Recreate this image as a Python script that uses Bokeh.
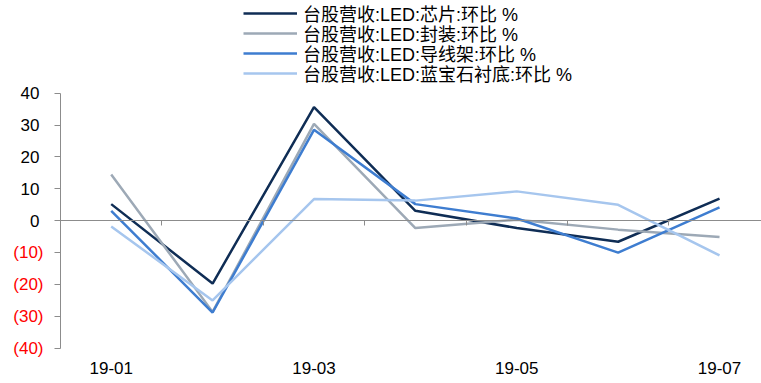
from bokeh.plotting import figure
from bokeh.models import FixedTicker, Legend, LegendItem, Label, LinearAxis
from bokeh.embed import file_html
from bokeh.resources import INLINE

# Monthly month-over-month revenue change (%) of Taiwan-listed LED companies
months = ["19-01", "19-02", "19-03", "19-04", "19-05", "19-06", "19-07"]
chips = [5.2, -19.7, 35.6, 3.1, -2.3, -6.6, 6.9]
packaging = [14.5, -28.6, 30.4, -2.3, 0.3, -2.8, -5.1]
leadframe = [3.1, -28.8, 28.5, 5.2, 0.7, -10.0, 4.2]
sapphire = [-1.8, -25.0, 6.8, 6.3, 9.2, 5.0, -10.9]

series_names = [
    "台股营收:LED:芯片:环比 %",
    "台股营收:LED:封装:环比 %",
    "台股营收:LED:导线架:环比 %",
    "台股营收:LED:蓝宝石衬底:环比 %",
]
series_colors = ["#0F2D55", "#9DA9B6", "#3E7DD0", "#A6C6EE"]

y_ticks = [-40, -30, -20, -10, 0, 10, 20, 30, 40]
x_label_idx = [0, 2, 4, 6]

FONT = "'Liberation Sans', 'Noto Sans CJK SC'"
AXIS_GREY = "#8C8C8C"

xs = list(range(len(months)))
x_lo, x_hi = -0.5, len(months) - 1 + 0.414
y_lo, y_hi = -40, 40

# The plotting area spans the whole canvas; axes are pinned inside it so
# that the legend and the red tick labels above/left of the data stay visible.
p = figure(width=761, height=383, output_backend="svg", toolbar_location=None,
           x_range=(-1.092, x_hi), y_range=(-51.07, 69.08),
           min_border=0, x_axis_type=None, y_axis_type=None)
p.outline_line_color = None
p.background_fill_color = "white"
p.border_fill_color = "white"
p.grid.visible = False

renderers = []
for vals, color in zip([chips, packaging, leadframe, sapphire], series_colors):
    r = p.line(xs, vals, line_color=color, line_width=2.5)
    renderers.append(r)

# zero line with ticks on the month boundaries
zero_axis = LinearAxis(fixed_location=0, bounds=(x_lo, x_hi),
                       ticker=FixedTicker(ticks=[i + 0.5 for i in range(len(months) - 1)]))
zero_axis.axis_line_color = AXIS_GREY
zero_axis.major_tick_line_color = AXIS_GREY
zero_axis.major_tick_out = 5
zero_axis.major_tick_in = 0
zero_axis.minor_tick_line_color = None
zero_axis.major_label_text_alpha = 0
p.add_layout(zero_axis, "below")

# month labels along the bottom
month_axis = LinearAxis(fixed_location=y_lo, bounds=(x_lo, x_hi),
                        ticker=FixedTicker(ticks=x_label_idx))
month_axis.major_label_overrides = {i: months[i] for i in x_label_idx}
month_axis.axis_line_color = None
month_axis.major_tick_line_color = None
month_axis.major_tick_out = 0
month_axis.minor_tick_line_color = None
month_axis.major_label_standoff = 14
month_axis.major_label_text_font = FONT
month_axis.major_label_text_font_size = "17px"
month_axis.major_label_text_color = "#000000"
p.add_layout(month_axis, "below")

# value axis: positive labels in black, negative ones in red parentheses
ya = LinearAxis(fixed_location=x_lo, bounds=(y_lo, y_hi),
                ticker=FixedTicker(ticks=y_ticks))
ya.major_label_overrides = {t: ("" if t < 0 else str(t)) for t in y_ticks}
ya.axis_line_color = AXIS_GREY
ya.major_tick_line_color = AXIS_GREY
ya.major_tick_out = 6
ya.major_tick_in = 0
ya.minor_tick_line_color = None
ya.major_label_standoff = 15
ya.major_label_text_font = FONT
ya.major_label_text_font_size = "17px"
ya.major_label_text_color = "#000000"
p.add_layout(ya, "left")

for t in y_ticks:
    if t < 0:
        p.add_layout(Label(x=x_lo, y=t, text="(%d)" % abs(t),
                           x_offset=-17, text_align="right",
                           text_baseline="middle", text_color="#FF0000",
                           text_font=FONT, text_font_size="17px"))

# one legend entry per row, stacked from the top
row_bottoms = [357.5, 337.2, 317, 296.7]
for name, r, vy in zip(series_names, renderers, row_bottoms):
    lg = Legend(items=[LegendItem(label=name, renderers=[r])],
                location=(243, vy), orientation="vertical")
    lg.border_line_color = None
    lg.background_fill_alpha = 0
    lg.padding = 0
    lg.margin = 0
    lg.spacing = 0
    lg.glyph_width = 54
    lg.glyph_height = 20
    lg.label_height = 20
    lg.label_standoff = 6
    lg.label_text_font = FONT
    lg.label_text_font_size = "18px"
    lg.label_text_color = "#000000"
    p.add_layout(lg, "center")

open("out.html", "w").write(file_html(p, INLINE))
